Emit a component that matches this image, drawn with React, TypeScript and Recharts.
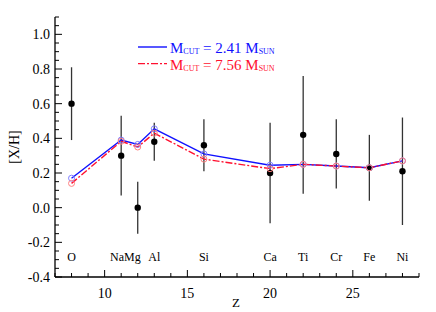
import React from 'react';
import { ComposedChart, Line, Scatter, ErrorBar, XAxis, YAxis } from 'recharts';

// element names and atomic numbers
const elements = ['O', 'Na', 'Mg', 'Al', 'Si', 'Ca', 'Ti', 'Cr', 'Fe', 'Ni'];
const atomicZ = [8, 11, 12, 13, 16, 20, 22, 24, 26, 28];

// observed abundances with error range
const observed = [0.6, 0.3, 0.0, 0.38, 0.36, 0.2, 0.42, 0.31, 0.23, 0.21];
const obsLow = [0.39, 0.07, -0.15, 0.27, 0.21, -0.09, 0.08, 0.11, 0.04, -0.1];
const obsHigh = [0.81, 0.53, 0.15, 0.49, 0.51, 0.49, 0.76, 0.51, 0.42, 0.52];

// model predictions
const modelA = [0.17, 0.39, 0.365, 0.455, 0.31, 0.245, 0.25, 0.24, 0.23, 0.27]; // Mcut = 2.41
const modelB = [0.14, 0.383, 0.35, 0.43, 0.28, 0.225, 0.25, 0.24, 0.23, 0.27]; // Mcut = 7.56

// element labels along the bottom of the plot
const labelZ = [8, 10.75, 11.68, 13, 16, 20, 22, 24, 26, 28];
const labelY = -0.28;

const xTicks = [7, 8, 9, 10, 11, 12, 13, 14, 15, 16, 17, 18, 19, 20, 21, 22, 23, 24, 25, 26, 27, 28, 29];
const xLabels = [10, 15, 20, 25];
const yTicks = Array.from({ length: 31 }, (_, i) => Math.round((-0.4 + i * 0.05) * 100) / 100);
const yLabels = [-0.4, -0.2, 0.0, 0.2, 0.4, 0.6, 0.8, 1.0];

const seriesNames = [
  { mass: '2.41', color: '#1010ff', dash: undefined },
  { mass: '7.56', color: '#ff1030', dash: '7 2 2 2' },
];

const FONT = '"Liberation Serif", "Times New Roman", serif';

const data = atomicZ.map((z, i) => ({
  z,
  obs: observed[i],
  err: [observed[i] - obsLow[i], obsHigh[i] - observed[i]],
  mA: modelA[i],
  mB: modelB[i],
}));

const labelData = elements.map((name, i) => ({ z: labelZ[i], y: labelY, name }));

const isYLabel = (v: number) => yLabels.some((l) => Math.abs(l - v) < 1e-6);

const BottomTick = (props: any) => {
  const { x, y, payload } = props;
  const major = xLabels.includes(payload.value);
  return (
    <g>
      <line x1={x} x2={x} y1={y} y2={y - (major ? 7 : 4)} stroke="#000" strokeWidth={1} />
      {major && (
        <text x={x} y={y + 21} textAnchor="middle" fontSize={14} fontFamily={FONT} fill="#000">
          {payload.value}
        </text>
      )}
    </g>
  );
};

const TopTick = (props: any) => {
  const { x, y, payload } = props;
  const major = xLabels.includes(payload.value);
  return <line x1={x} x2={x} y1={y} y2={y + (major ? 7 : 4)} stroke="#000" strokeWidth={1} />;
};

const LeftTick = (props: any) => {
  const { x, y, payload } = props;
  const major = isYLabel(payload.value);
  return (
    <g>
      <line x1={x} x2={x + (major ? 7 : 4)} y1={y} y2={y} stroke="#000" strokeWidth={1} />
      {major && (
        <text x={x - 5} y={y + 5} textAnchor="end" fontSize={14} fontFamily={FONT} fill="#000">
          {payload.value.toFixed(1)}
        </text>
      )}
    </g>
  );
};

const RightTick = (props: any) => {
  const { x, y, payload } = props;
  const major = isYLabel(payload.value);
  return <line x1={x} x2={x - (major ? 7 : 4)} y1={y} y2={y} stroke="#000" strokeWidth={1} />;
};

const ObsDot = (props: any) => <circle cx={props.cx} cy={props.cy} r={3.2} fill="#000" />;

const ElementLabel = (props: any) => (
  <text x={props.cx} y={props.cy + 5} textAnchor="middle" fontSize={12} fontFamily={FONT} fill="#000">
    {props.payload.name}
  </text>
);

export default function App() {
  return (
    <div style={{ position: 'absolute', left: 0, top: 0, width: 436, height: 312, background: '#fff' }}>
      <ComposedChart width={436} height={312} data={data} margin={{ top: 17, right: 17, bottom: 0, left: 10 }}>
        <XAxis
          dataKey="z"
          type="number"
          domain={[7, 29]}
          ticks={xTicks}
          interval={0}
          tickSize={0}
          tickMargin={0}
          tick={<BottomTick />}
          height={35}
          axisLine={{ stroke: '#000', strokeWidth: 1.3 }}
          allowDataOverflow
        />
        <XAxis
          xAxisId="top"
          orientation="top"
          type="number"
          domain={[7, 29]}
          ticks={xTicks}
          interval={0}
          tickSize={0}
          tickMargin={0}
          tick={<TopTick />}
          height={0}
          axisLine={{ stroke: '#000', strokeWidth: 1.3 }}
          allowDataOverflow
        />
        <YAxis
          type="number"
          domain={[-0.4, 1.1]}
          ticks={yTicks}
          interval={0}
          tickSize={0}
          tickMargin={0}
          tick={<LeftTick />}
          width={45}
          axisLine={{ stroke: '#000', strokeWidth: 1.3 }}
          allowDataOverflow
        />
        <YAxis
          yAxisId="right"
          orientation="right"
          type="number"
          domain={[-0.4, 1.1]}
          ticks={yTicks}
          interval={0}
          tickSize={0}
          tickMargin={0}
          tick={<RightTick />}
          width={0}
          axisLine={{ stroke: '#000', strokeWidth: 1.3 }}
          allowDataOverflow
        />
        <Scatter data={labelData} dataKey="y" shape={<ElementLabel />} isAnimationActive={false} />
        <Scatter dataKey="obs" shape={<ObsDot />} isAnimationActive={false}>
          <ErrorBar dataKey="err" direction="y" width={0} stroke="#333" strokeWidth={1.3} />
        </Scatter>
        <Line
          dataKey="mA"
          type="linear"
          stroke={seriesNames[0].color}
          strokeWidth={1.4}
          dot={{ r: 3, fill: 'none', stroke: '#8080ff', strokeWidth: 1 }}
          isAnimationActive={false}
        />
        <Line
          dataKey="mB"
          type="linear"
          stroke={seriesNames[1].color}
          strokeWidth={1.4}
          strokeDasharray={seriesNames[1].dash}
          dot={{ r: 3, fill: 'none', stroke: '#ff8080', strokeWidth: 1, strokeDasharray: '' }}
          isAnimationActive={false}
        />
      </ComposedChart>
      <svg
        width={436}
        height={312}
        style={{ position: 'absolute', left: 0, top: 0, pointerEvents: 'none' }}
        fontFamily={FONT}
      >
        <text x={19} y={147} fontSize={14} textAnchor="middle" transform="rotate(-90 19 147)" fill="#000">
          [X/H]
        </text>
        <text x={236} y={307} fontSize={13} textAnchor="middle" fill="#000">
          Z
        </text>
        {seriesNames.map((s, i) => (
          <g key={s.mass}>
            <line
              x1={138}
              x2={167}
              y1={47 + i * 16.6}
              y2={47 + i * 16.6}
              stroke={s.color}
              strokeWidth={1.4}
              strokeDasharray={s.dash}
            />
            <text x={170} y={53 + i * 16.6} fontSize={15} fill={s.color}>
              M
              <tspan fontSize={8} dy={1}>CUT</tspan>
              <tspan dy={-1}>{` = ${s.mass} M`}</tspan>
              <tspan fontSize={8} dy={1}>SUN</tspan>
            </text>
          </g>
        ))}
      </svg>
    </div>
  );
}
